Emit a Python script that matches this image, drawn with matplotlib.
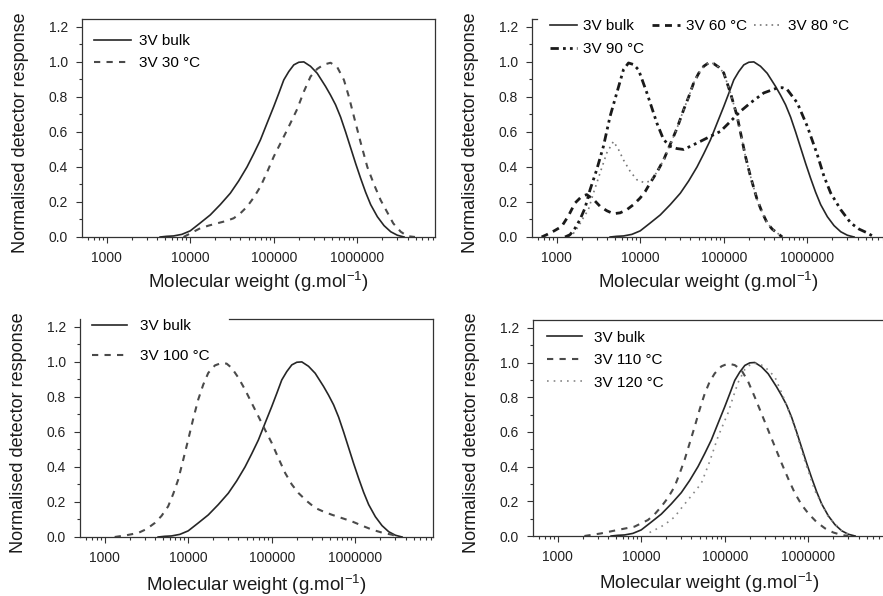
import numpy as np
import matplotlib
matplotlib.use("Agg")
import matplotlib.pyplot as plt
from matplotlib.ticker import FixedLocator, NullFormatter

plt.rcParams["font.family"] = ["Liberation Sans", "DejaVu Sans"]

# log10 of molecular weight, normalised response
bulk_logm = [3.64, 3.72, 3.80, 3.90, 4.00, 4.12, 4.24, 4.36, 4.48, 4.58, 4.68, 4.76, 4.84, 4.92, 5.00,
             5.06, 5.12, 5.18, 5.24, 5.30, 5.36, 5.44, 5.52, 5.62, 5.68, 5.74, 5.80, 5.86, 5.92, 5.98,
             6.04, 6.10, 6.16, 6.24, 6.32, 6.40, 6.48, 6.56]
bulk_y = [0.0, 0.004, 0.006, 0.015, 0.035, 0.08, 0.126, 0.185, 0.25, 0.32, 0.40, 0.475, 0.554, 0.65, 0.745,
          0.82, 0.897, 0.945, 0.983, 0.998, 1.0, 0.975, 0.935, 0.86, 0.81, 0.755, 0.685, 0.60, 0.51, 0.42,
          0.335, 0.255, 0.185, 0.116, 0.065, 0.03, 0.01, 0.0]

t30_logm = [3.92, 4.02, 4.12, 4.22, 4.32, 4.42, 4.52, 4.60, 4.68, 4.76, 4.84, 4.92, 5.00, 5.08, 5.16,
            5.22, 5.28, 5.36, 5.44, 5.52, 5.60, 5.68, 5.76, 5.84, 5.90, 5.96, 6.04, 6.12, 6.20, 6.28,
            6.36, 6.43, 6.52, 6.60, 6.69]
t30_y = [0.0, 0.025, 0.05, 0.065, 0.078, 0.09, 0.107, 0.135, 0.173, 0.225, 0.287, 0.37, 0.459, 0.535, 0.611,
         0.67, 0.73, 0.83, 0.916, 0.96, 0.985, 0.995, 0.97, 0.897, 0.80, 0.687, 0.54, 0.40, 0.30, 0.21,
         0.14, 0.078, 0.03, 0.005, 0.0]

t60_logm = [2.82, 2.88, 2.97, 3.06, 3.14, 3.22, 3.30, 3.36, 3.44, 3.52, 3.60, 3.68, 3.76, 3.84, 3.92,
            4.00, 4.06, 4.12, 4.20, 4.28, 4.36, 4.44, 4.52, 4.58, 4.64, 4.70, 4.76, 4.82, 4.88, 4.94,
            5.00, 5.08, 5.16, 5.26, 5.32, 5.40, 5.46, 5.52, 5.58, 5.64, 5.70]
t60_y = [0.0, 0.013, 0.035, 0.06, 0.12, 0.194, 0.232, 0.242, 0.215, 0.175, 0.15, 0.133, 0.138, 0.156, 0.185,
         0.223, 0.26, 0.309, 0.37, 0.44, 0.53, 0.62, 0.727, 0.80, 0.88, 0.935, 0.975, 0.995, 0.99, 0.97,
         0.937, 0.823, 0.69, 0.46, 0.346, 0.213, 0.14, 0.08, 0.045, 0.023, 0.0]

t80_logm = [3.14, 3.20, 3.26, 3.32, 3.38, 3.44, 3.52, 3.60, 3.68, 3.74, 3.80, 3.88, 3.96, 4.04, 4.12,
            4.20, 4.28, 4.36, 4.44, 4.52, 4.58, 4.64, 4.70, 4.76, 4.82, 4.88, 4.94, 5.00, 5.08, 5.16,
            5.26, 5.32, 5.40, 5.46, 5.52, 5.58, 5.64, 5.70]
t80_y = [0.0, 0.02, 0.06, 0.11, 0.156, 0.25, 0.366, 0.48, 0.546, 0.50, 0.44, 0.375, 0.327, 0.312, 0.318,
         0.37, 0.44, 0.53, 0.62, 0.727, 0.80, 0.88, 0.935, 0.975, 0.995, 0.99, 0.97, 0.937, 0.823, 0.69,
         0.46, 0.346, 0.213, 0.14, 0.08, 0.045, 0.023, 0.0]

t90_logm = [3.10, 3.16, 3.22, 3.28, 3.34, 3.40, 3.48, 3.56, 3.64, 3.72, 3.80, 3.86, 3.92, 3.98, 4.08,
            4.20, 4.28, 4.36, 4.44, 4.52, 4.60, 4.72, 4.84, 4.96, 5.08, 5.20, 5.32, 5.48, 5.64, 5.70,
            5.76, 5.88, 6.00, 6.12, 6.20, 6.28, 6.40, 6.52, 6.62, 6.72, 6.80]
t90_y = [0.0, 0.013, 0.05, 0.10, 0.166, 0.27, 0.385, 0.518, 0.69, 0.823, 0.956, 0.994, 0.985, 0.955, 0.823,
         0.65, 0.556, 0.518, 0.505, 0.50, 0.518, 0.546, 0.575, 0.603, 0.66, 0.718, 0.766, 0.823, 0.851, 0.853,
         0.842, 0.766, 0.632, 0.47, 0.346, 0.251, 0.156, 0.08, 0.045, 0.023, 0.0]

t100_logm = [3.12, 3.26, 3.40, 3.50, 3.60, 3.68, 3.76, 3.82, 3.88, 3.94, 4.00, 4.06, 4.12, 4.18, 4.24,
             4.32, 4.40, 4.46, 4.52, 4.60, 4.68, 4.76, 4.84, 4.92, 5.00, 5.08, 5.16, 5.24, 5.32, 5.42,
             5.52, 5.62, 5.72, 5.84, 5.96, 6.08, 6.20, 6.32, 6.44, 6.52]
t100_y = [0.0, 0.01, 0.023, 0.045, 0.08, 0.12, 0.175, 0.245, 0.327, 0.44, 0.556, 0.675, 0.785, 0.87, 0.937,
          0.98, 0.994, 0.99, 0.966, 0.91, 0.842, 0.765, 0.689, 0.612, 0.537, 0.45, 0.366, 0.30, 0.251, 0.205,
          0.166, 0.145, 0.127, 0.108, 0.089, 0.065, 0.042, 0.025, 0.013, 0.0]

t110_logm = [3.32, 3.52, 3.72, 3.92, 4.08, 4.16, 4.24, 4.32, 4.40, 4.46, 4.52, 4.58, 4.64, 4.70, 4.76,
             4.82, 4.88, 4.96, 5.04, 5.12, 5.20, 5.28, 5.36, 5.44, 5.52, 5.60, 5.68, 5.76, 5.84, 5.92,
             6.00, 6.10, 6.20, 6.30, 6.40, 6.48]
t110_y = [0.0, 0.015, 0.035, 0.054, 0.092, 0.125, 0.169, 0.22, 0.285, 0.36, 0.44, 0.535, 0.63, 0.73, 0.82,
          0.89, 0.937, 0.978, 0.994, 0.985, 0.956, 0.89, 0.80, 0.705, 0.61, 0.515, 0.42, 0.33, 0.246, 0.18,
          0.13, 0.08, 0.044, 0.02, 0.006, 0.0]

t120_logm = [4.10, 4.24, 4.32, 4.40, 4.48, 4.56, 4.64, 4.72, 4.82, 4.92, 5.04, 5.10, 5.16, 5.24, 5.32,
             5.40, 5.48, 5.60, 5.72, 5.84, 5.96, 6.08, 6.24, 6.40, 6.52]
t120_y = [0.02, 0.054, 0.08, 0.11, 0.16, 0.208, 0.255, 0.304, 0.43, 0.573, 0.71, 0.80, 0.885, 0.96, 0.994,
          0.995, 0.975, 0.917, 0.78, 0.62, 0.43, 0.26, 0.11, 0.03, 0.0]

xticks = [1000, 10000, 100000, 1000000]
xtick_labels = ["1000", "10000", "100000", "1000000"]
yticks = [0.0, 0.2, 0.4, 0.6, 0.8, 1.0, 1.2]

W, H = 883, 596
LINE = "#262626"
GREY = "#4a4a4a"

fig = plt.figure(figsize=(W / 100, H / 100), dpi=100)


def make_ax(left, bottom_px, top_px):
    # pixel box -> figure fraction
    ax = fig.add_axes([left / W, (H - bottom_px) / H, 353 / W, (bottom_px - top_px) / H])
    ax.set_xscale("log")
    ax.set_xlim(10 ** 2.705, 10 ** 6.93)
    ax.set_ylim(0, 1.245)
    ax.xaxis.set_major_locator(FixedLocator(xticks))
    ax.set_xticklabels(xtick_labels)
    minors = [m * 10 ** e for e in range(2, 7) for m in range(2, 10)]
    ax.xaxis.set_minor_locator(FixedLocator(minors))
    ax.xaxis.set_minor_formatter(NullFormatter())
    ax.set_yticks(yticks)
    ax.set_yticklabels([f"{v:.1f}" for v in yticks])
    ax.set_yticks(np.arange(0.1, 1.25, 0.2), minor=True)
    ax.tick_params(which="major", length=4, width=0.8, labelsize=10, pad=6, color="#333333",
                   labelcolor="#222222")
    ax.tick_params(which="minor", length=2.5, width=0.8, color="#333333")
    for s in ax.spines.values():
        s.set_linewidth(0.9)
        s.set_color("#333333")
    ax.set_xlabel(r"Molecular weight (g.mol$^{\mathregular{-1}}$)", fontsize=13.5, color="#1a1a1a")
    ax.set_ylabel("Normalised detector response", fontsize=13, color="#1a1a1a")
    ax.yaxis.set_label_coords(-0.15, 0.48)
    return ax


def m(logm):
    return 10 ** np.array(logm)


# top left
ax1 = make_ax(82, 237, 19)
ax1.plot(m(bulk_logm), bulk_y, color=LINE, lw=1.2, label="3V bulk")
ax1.plot(m(t30_logm), t30_y, color=GREY, lw=1.5, ls=(0, (3, 3)), label="3V 30 °C")
ax1.xaxis.set_label_coords(0.5, -0.15)
ax1.legend(loc="upper left", bbox_to_anchor=(0.035, 0.93), frameon=False, fontsize=11,
           handlelength=2.4, handletextpad=0.5, labelspacing=0.5, borderpad=0, borderaxespad=0)

# top right
ax2 = make_ax(532, 237, 19)
h_b, = ax2.plot(m(bulk_logm), bulk_y, color=LINE, lw=1.2, label="3V bulk")
h_60, = ax2.plot(m(t60_logm), t60_y, color="#1a1a1a", lw=2.0, ls=(0, (2.5, 2)), label="3V 60 °C")
h_80, = ax2.plot(m(t80_logm), t80_y, color="#777777", lw=1.2, ls=(0, (1, 2.5)), label="3V 80 °C")
h_90, = ax2.plot(m(t90_logm), t90_y, color="#1a1a1a", lw=2.0, ls=(0, (3, 1.5, 1, 1.5, 1, 1.5)),
                 label="3V 90 °C")
ax2.spines["top"].set_bounds(10 ** 2.705, 10 ** 2.77)
ax2.xaxis.set_label_coords(0.5, -0.15)
ax2.legend(handles=[h_b, h_90, h_60, h_80], loc="upper left", bbox_to_anchor=(0.05, 1.0), ncol=3,
           frameon=False, fontsize=11, handlelength=1.8, handletextpad=0.4, labelspacing=0.6,
           columnspacing=0.5, borderpad=0, borderaxespad=0)

# bottom left
ax3 = make_ax(80, 537, 319)
ax3.plot(m(bulk_logm), bulk_y, color=LINE, lw=1.2, label="3V bulk")
ax3.plot(m(t100_logm), t100_y, color=GREY, lw=1.5, ls=(0, (3, 3)), label="3V 100 °C")
ax3.spines["top"].set_bounds(10 ** 4.49, 10 ** 6.93)
ax3.xaxis.set_label_coords(0.5, -0.16)
ax3.legend(loc="upper left", bbox_to_anchor=(0.035, 1.0), frameon=False, fontsize=11,
           handlelength=2.3, handletextpad=0.8, labelspacing=1.05, borderpad=0, borderaxespad=0)

# bottom right
ax4 = make_ax(533, 536, 320)
ax4.plot(m(bulk_logm), bulk_y, color=LINE, lw=1.2, label="3V bulk")
ax4.plot(m(t110_logm), t110_y, color=GREY, lw=1.5, ls=(0, (3, 3)), label="3V 110 °C")
ax4.plot(m(t120_logm), t120_y, color="#888888", lw=1.2, ls=(0, (1, 3)), label="3V 120 °C")
ax4.xaxis.set_label_coords(0.5, -0.16)
ax4.legend(loc="upper left", bbox_to_anchor=(0.04, 0.95), frameon=False, fontsize=11,
           handlelength=2.3, handletextpad=0.8, labelspacing=0.55, borderpad=0, borderaxespad=0)

fig.savefig("out.png", dpi=100)
